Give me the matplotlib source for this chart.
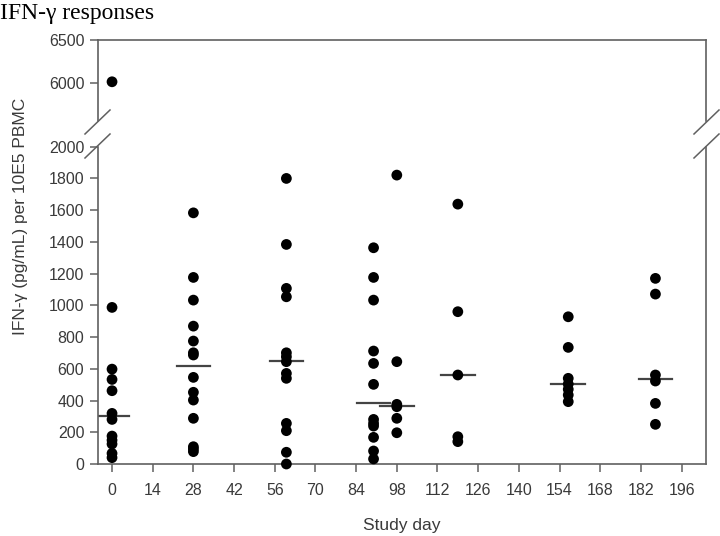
import numpy as np
import matplotlib
matplotlib.use('Agg')
import matplotlib.pyplot as plt
from matplotlib.lines import Line2D

# study day of each group and the values (pg/mL)
days = [0, 28, 60, 90, 98, 119, 157, 187]
values = [
    [6010, 987, 598, 533, 462, 319, 281, 176, 150, 126, 67, 40],
    [1583, 1176, 1033, 869, 775, 701, 687, 546, 452, 403, 288, 109, 95, 78],
    [1800, 1384, 1107, 1054, 701, 676, 645, 571, 540, 256, 210, 74, 0],
    [1363, 1176, 1033, 712, 634, 502, 281, 256, 239, 168, 82, 32],
    [1821, 645, 376, 361, 288, 197],
    [1638, 960, 561, 172, 141],
    [928, 735, 540, 504, 471, 435, 393],
    [1170, 1071, 561, 523, 382, 250],
]
medians = [300, 619, 649, 382, 365, 561, 504, 536]
xticks = list(range(0, 197, 14))
yticks_low = list(range(0, 2001, 200))
yticks_high = [6000, 6500]

W, H = 720, 536
fig = plt.figure(figsize=(W / 100, H / 100), dpi=100)

def px(x0, y0, x1, y1):
    # pixel box -> figure fraction [left, bottom, width, height]
    return [x0 / W, 1 - y1 / H, (x1 - x0) / W, (y1 - y0) / H]

ax_hi = fig.add_axes(px(97.5, 40, 705.7, 121))
ax_lo = fig.add_axes(px(97.5, 146.7, 705.7, 464))

spine_col = '#606060'
tick_col = '#3a3a3a'
sans = ['Liberation Sans', 'DejaVu Sans']

ax_hi.set_ylim(5550, 6500)
ax_lo.set_ylim(0, 2000)

for ax in (ax_hi, ax_lo):
    lo, hi = ax.get_ylim()
    for d, vals in zip(days, values):
        v = np.array(vals)
        v = v[(v >= lo) & (v <= hi)]
        if len(v) == 0:
            continue
        ax.scatter([d] * len(v), v, s=60, color='black', marker='o',
                   edgecolors='none', zorder=3, clip_on=False)
    for d, m in zip(days, medians):
        if lo <= m <= hi:
            ax.plot([d - 5.8, d + 5.8], [m, m], color='#444444', lw=1.6, zorder=2)
    ax.set_xlim(-5, 204.3)
    for s in ax.spines.values():
        s.set_color(spine_col)
        s.set_linewidth(1.2)
    ax.tick_params(colors=spine_col, labelcolor=tick_col, length=6, width=1.1,
                   right=False, top=False, labelsize=11.5)

ax_hi.set_yticks(yticks_high)
ax_hi.spines['bottom'].set_visible(False)
ax_hi.set_xticks([])
ax_lo.set_yticks(yticks_low)
ax_lo.spines['top'].set_visible(False)
ax_lo.set_xticks(xticks)

for ax in (ax_hi, ax_lo):
    for lab in ax.get_yticklabels() + ax.get_xticklabels():
        lab.set_fontfamily(sans)
ax_lo.tick_params(axis='x', pad=8)

# break marks on both vertical spines
for xc in (97.5, 706.5):
    for yc in (122, 146):
        fig.add_artist(Line2D([(xc - 12.5) / W, (xc + 12.5) / W],
                              [1 - (yc + 12) / H, 1 - (yc - 12) / H],
                              color=spine_col, lw=1.1))

ax_lo.set_xlabel('Study day', fontsize=12.5, color=tick_col,
                 family=sans, labelpad=14)
fig.text(21 / W, 1 - 216 / H, 'IFN-\u03b3 (pg/mL) per 10E5 PBMC', rotation=90,
         ha='center', va='center', fontsize=12.5, color=tick_col, family=sans)
fig.text(0, 1 - 14 / H, 'IFN-\u03b3 responses', ha='left', va='center',
         fontsize=17, color='black', family=['Liberation Serif', 'DejaVu Serif'])

fig.savefig('out.png', dpi=100)
